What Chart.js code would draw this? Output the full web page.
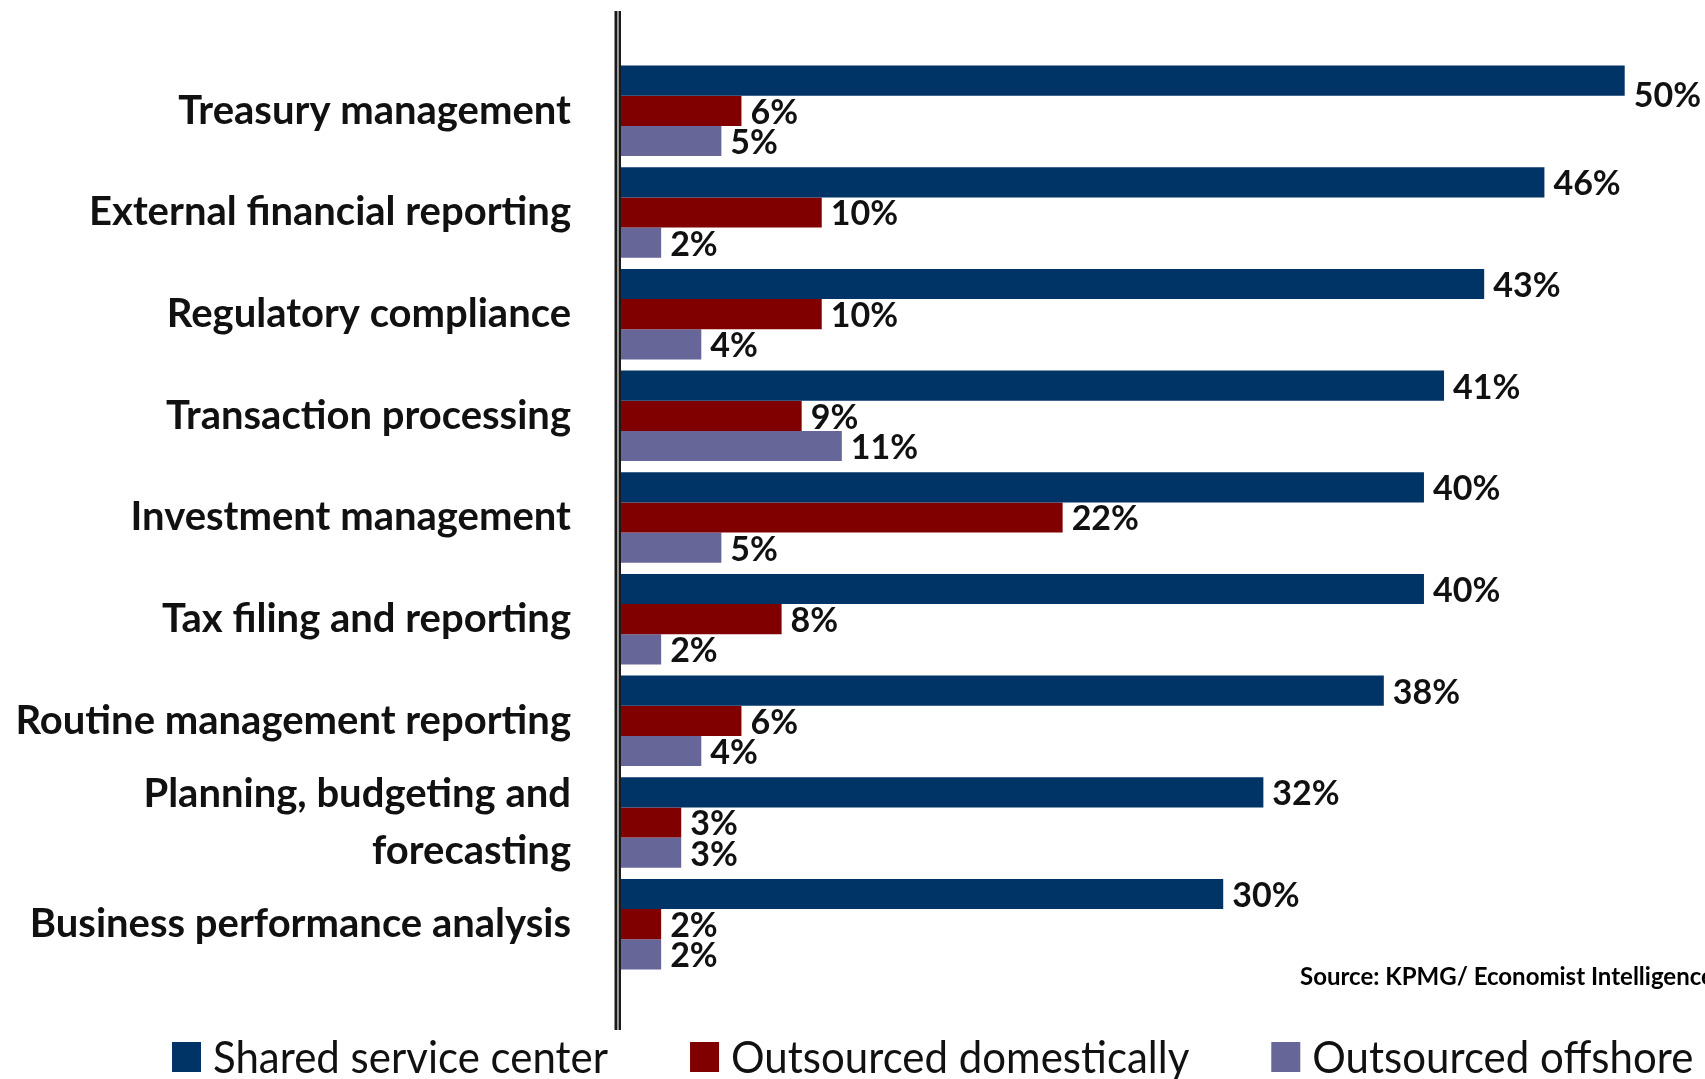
<!DOCTYPE html>
<html>
<head>
<meta charset="utf-8">
<script src="https://cdn.jsdelivr.net/npm/chart.js@4.4.0/dist/chart.umd.min.js"></script>
<style>
  html, body { margin: 0; padding: 0; background: #fff; overflow: hidden; }
  #grafica { display: block; }
</style>
</head>
<body>
<canvas id="grafica" width="1705" height="1079"></canvas>
<script>
// Datos de la encuesta
const categorias = [
    'Treasury management',
    'External financial reporting',
    'Regulatory compliance',
    'Transaction processing',
    'Investment management',
    'Tax filing and reporting',
    'Routine management reporting',
    ['Planning, budgeting and', 'forecasting'],
    'Business performance analysis'
];
const centroServicios = [50, 46, 43, 41, 40, 40, 38, 32, 30];
const externoNacional = [6, 10, 10, 9, 22, 8, 6, 3, 2];
const externoOffshore = [5, 2, 4, 11, 5, 2, 4, 3, 2];
const series = ['Shared service center', 'Outsourced domestically', 'Outsourced offshore'];
const colores = ['#003366', '#800000', '#666699'];
const fuente = 'Source: KPMG/ Economist Intelligence Unit';

// Porcentaje al final de cada barra
const etiquetasBarras = {
    id: 'etiquetasBarras',
    afterDatasetsDraw(chart) {
        const ctx = chart.ctx;
        ctx.save();
        ctx.font = 'bold 34px Lato';
        ctx.fillStyle = '#111';
        ctx.textAlign = 'left';
        ctx.textBaseline = 'middle';
        chart.data.datasets.forEach((ds, i) => {
            chart.getDatasetMeta(i).data.forEach((barra, j) => {
                const texto = ds.data[j] + '%';
                const x = barra.x + 9;
                let y = barra.y + 2;
                // si no cabe a la derecha, se baja hacia el borde inferior
                if (x + ctx.measureText(texto).width > chart.width - 15) {
                    y = barra.y + barra.height / 2;
                }
                ctx.fillText(texto, x, y);
            });
        });
        ctx.restore();
    }
};

// Eje vertical con línea doble
const ejeDoble = {
    id: 'ejeDoble',
    afterDraw(chart) {
        const ctx = chart.ctx;
        const x = chart.chartArea.left;
        ctx.save();
        ctx.fillStyle = '#1a1a1a';
        ctx.fillRect(x - 6.5, 11, 2.5, 1019);
        ctx.fillRect(x - 2.5, 11, 2.5, 1019);
        ctx.fillStyle = '#9a9a9a';
        ctx.fillRect(x - 4, 11, 1.5, 1019);
        ctx.restore();
    }
};

// Leyenda inferior y nota de la fuente
const leyenda = {
    id: 'leyenda',
    afterDraw(chart) {
        const ctx = chart.ctx;
        let x = 172;
        const y = 1042;
        ctx.save();
        ctx.font = '42px Lato';
        chart.data.datasets.forEach(ds => {
            ctx.fillStyle = ds.backgroundColor;
            ctx.fillRect(x, y, 29, 30);
            ctx.fillStyle = '#111';
            ctx.save();
            ctx.translate(x + 41, y + 31);
            ctx.scale(1, 1.06);
            ctx.textBaseline = 'alphabetic';
            ctx.fillText(ds.label, 0, 0);
            ctx.restore();
            x += 41 + ctx.measureText(ds.label).width + 82;
        });

        ctx.font = 'bold 24px Lato';
        ctx.fillStyle = '#000';
        ctx.textBaseline = 'middle';
        ctx.fillText(fuente, 1300, 977);
        ctx.restore();
    }
};

const datos = [centroServicios, externoNacional, externoOffshore];

window.graficaFunciones = new Chart(document.getElementById('grafica'), {
    type: 'bar',
    data: {
        labels: categorias,
        datasets: series.map((nombre, i) => ({
            label: nombre,
            data: datos[i],
            backgroundColor: colores[i],
            categoryPercentage: 0.89,
            barPercentage: 1
        }))
    },
    options: {
        indexAxis: 'y',
        responsive: false,
        animation: false,
        layout: {
            padding: { top: 60, bottom: 104, left: 0, right: 0 }
        },
        plugins: {
            legend: { display: false },
            tooltip: { enabled: false }
        },
        scales: {
            x: { display: false, min: 0, max: 54 },
            y: {
                grid: { display: false, drawTicks: false },
                border: { display: false },
                ticks: {
                    autoSkip: false,
                    color: '#111',
                    padding: 50,
                    font: { family: 'Lato', weight: 'bold', size: 40, lineHeight: 1.41 }
                },
                afterFit(escala) {
                    escala.width = 621;
                    escala.paddingTop = 0;
                    escala.paddingBottom = 0;
                }
            }
        }
    },
    plugins: [etiquetasBarras, ejeDoble, leyenda]
});
</script>
</body>
</html>
